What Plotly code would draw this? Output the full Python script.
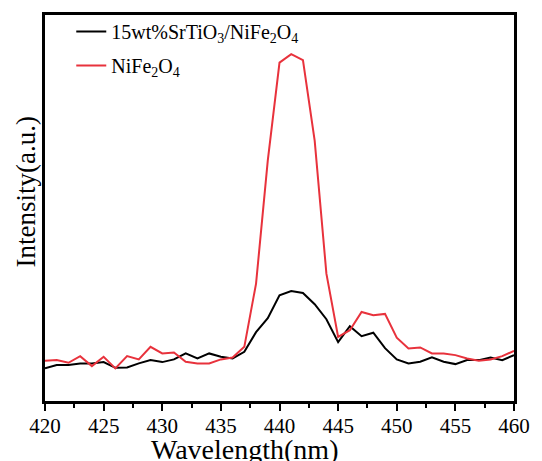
import plotly.graph_objects as go

# Photoluminescence spectra, 420-460 nm, 1 nm step (intensity in arbitrary units)
wavelength = list(range(420, 461))

composite_intensity = [
    32.7, 36.0, 36.0, 37.7, 37.7, 39.0, 33.3, 33.7, 37.7, 41.0,
    39.0, 41.7, 47.7, 42.7, 47.7, 44.3, 42.7, 49.3, 69.0, 83.0,
    106.0, 110.3, 108.3, 97.0, 82.0, 59.0, 75.0, 65.0, 68.5, 53.0,
    41.7, 37.7, 39.3, 43.7, 39.3, 37.0, 41.0, 41.0, 43.7, 41.0,
    46.0,
]

nife2o4_intensity = [
    40.3, 41.0, 38.3, 45.0, 35.0, 44.3, 32.7, 45.0, 41.7, 54.3,
    47.7, 48.7, 39.3, 37.7, 37.7, 41.7, 43.5, 54.3, 117.7, 241.0,
    339.3, 347.7, 341.7, 261.0, 127.7, 64.3, 71.0, 89.3, 86.0, 87.3,
    63.5, 52.7, 53.7, 47.7, 47.7, 46.0, 42.7, 40.3, 41.7, 45.0,
    50.3,
]

series_names = [
    "15wt%SrTiO<sub>3</sub>/NiFe<sub>2</sub>O<sub>4</sub>",
    "NiFe<sub>2</sub>O<sub>4</sub>",
]
series_colors = ["#000000", "#e8323c"]

x_tick_values = [420, 425, 430, 435, 440, 445, 450, 455, 460]

serif = "Liberation Serif, Times New Roman, serif"

fig = go.Figure()
for name, values, color, group in zip(
    series_names, [composite_intensity, nife2o4_intensity], series_colors, ["a", "b"]
):
    fig.add_trace(
        go.Scatter(
            x=wavelength,
            y=values,
            mode="lines",
            name=name,
            legendgroup=group,
            line=dict(color=color, width=2),
        )
    )

fig.update_layout(
    width=542,
    height=461,
    margin=dict(l=45, r=18, t=14, b=60),
    paper_bgcolor="white",
    plot_bgcolor="white",
    font=dict(family=serif, color="black"),
    showlegend=True,
    legend=dict(
        x=0.056,
        y=1.008,
        xanchor="left",
        yanchor="top",
        bgcolor="rgba(0,0,0,0)",
        font=dict(family=serif, size=20, color="black"),
        tracegroupgap=5,
        itemwidth=30,
    ),
    xaxis=dict(
        range=[420, 460],
        tickmode="array",
        tickvals=x_tick_values,
        ticks="outside",
        ticklen=7,
        tickwidth=2,
        tickcolor="black",
        ticklabelstandoff=-3,
        minor=dict(dtick=2.5, tick0=420, ticks="outside", ticklen=4, tickwidth=2, tickcolor="black"),
        showline=True,
        linewidth=2.5,
        linecolor="black",
        mirror=True,
        showgrid=False,
        zeroline=False,
        tickfont=dict(family=serif, size=21, color="black"),
    ),
    yaxis=dict(
        range=[0, 387],
        showticklabels=False,
        ticks="",
        showline=True,
        linewidth=2.5,
        linecolor="black",
        mirror=True,
        showgrid=False,
        zeroline=False,
    ),
    annotations=[
        dict(
            text="Wavelength(nm)",
            xref="paper",
            yref="paper",
            x=0.425,
            y=-0.126,
            xanchor="center",
            yanchor="middle",
            showarrow=False,
            font=dict(family=serif, size=28, color="black"),
        ),
        dict(
            text="Intensity(a.u.)",
            xref="paper",
            yref="paper",
            x=-0.040,
            y=0.541,
            xanchor="center",
            yanchor="middle",
            textangle=-90,
            showarrow=False,
            font=dict(family=serif, size=27, color="black"),
        ),
    ],
)

fig.write_html("out.html")
